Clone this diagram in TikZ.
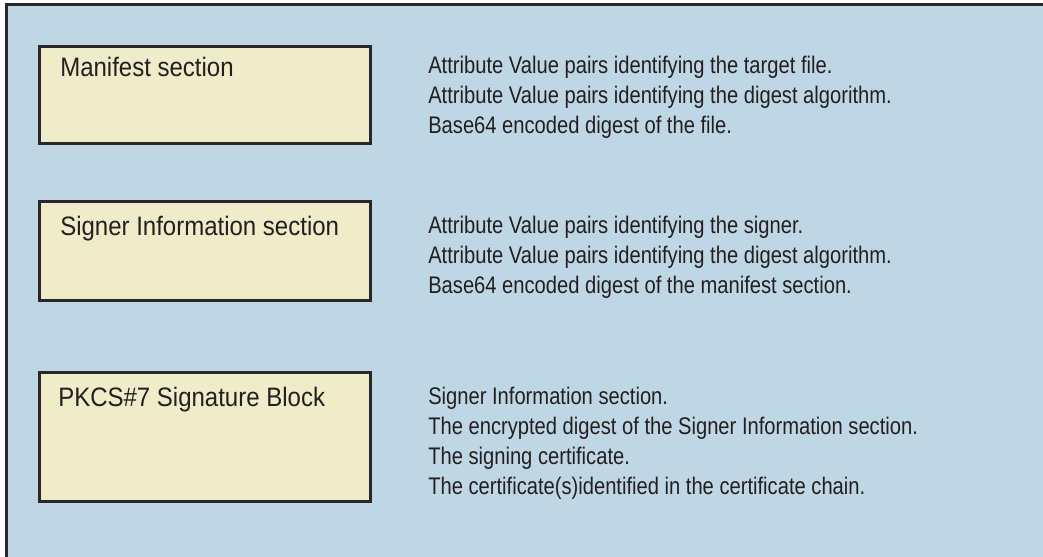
\documentclass[tikz,border=0pt]{standalone}
\usepackage{fontspec}
\setmainfont[FakeStretch=0.84]{Liberation Sans}
\newfontfamily\lblfont[FakeStretch=0.9]{Liberation Sans}
\usetikzlibrary{positioning}
\definecolor{jblue}{RGB}{191,214,229}
\definecolor{jbuff}{RGB}{240,235,200}
\definecolor{jgrey}{RGB}{40,40,40}
\definecolor{jink}{RGB}{35,31,32}
\tikzset{
    secbox/.style={draw=jgrey, line width=2.25pt, fill=jbuff, anchor=north west,
        minimum width=248.25pt, inner sep=0pt},
    seclabel/.style={anchor=base west, inner sep=0pt, text=jink,
        font=\lblfont\fontsize{20}{24}\selectfont},
    entries/.style={anchor=base west, inner sep=0pt, text=jink, align=left,
        font=\fontsize{18}{22.5}\selectfont}
}
\begin{document}
\begin{tikzpicture}[x=0.75pt, y=-0.75pt]
        \useasboundingbox (0,0) rectangle (1043,557);
        % background
        \fill[jblue] (6.5,4.7) rectangle (1043,557);
        \draw[jgrey, line width=2.25pt] (1046,4.7) -- (6.5,4.7) -- (6.5,560);
        
        % section boxes
        \node[secbox, minimum height=72.75pt] (man) at (37.5,44.5) {};
        \node[secbox, minimum height=74.25pt] (sig) at (37.5,199.5) {};
        \node[secbox, minimum height=96.75pt] (pkcs) at (37.5,370.5) {};
        
        % box titles
        \node[seclabel] (manlbl) at (60,76) {Manifest section};
        \node[seclabel] (siglbl) at (60,235) {Signer Information section};
        \node[seclabel] (pkcslbl) at (58,406) {PKCS\#7 Signature Block};
        
        % contents of each section (placed at baseline of last line)
        \node[entries] (manlist) at (428,133) {Attribute Value pairs identifying the target file.\\
            Attribute Value pairs identifying the digest algorithm.\\
            Base64 encoded digest of the file.};
        \node[entries] (siglist) at (428,293) {Attribute Value pairs identifying the signer.\\
            Attribute Value pairs identifying the digest algorithm.\\
            Base64 encoded digest of the manifest section.};
        \node[entries] (pkcslist) at (428,494) {Signer Information section.\\
            The encrypted digest of the Signer Information section.\\
            The signing certificate.\\
            The certificate(s)identified in the certificate chain.};
\end{tikzpicture}
\end{document}
